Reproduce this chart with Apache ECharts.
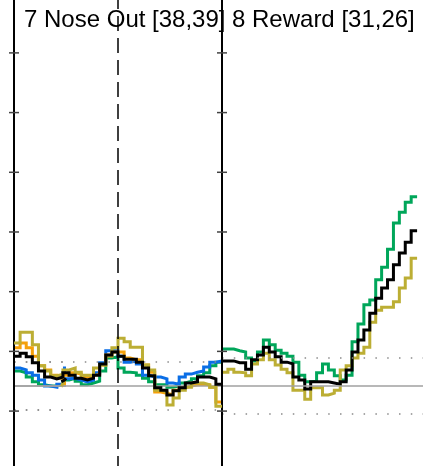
<!DOCTYPE html>
<html><head><meta charset="utf-8">
<script src="https://cdn.jsdelivr.net/npm/echarts@6/dist/echarts.min.js"></script>
<style>html,body{margin:0;padding:0;background:#fff}#c{width:423px;height:466px}</style>
</head><body><div id="c"></div>
<script>
// ---- data (values per time bin, baseline = 0) ----
const binsPerPanel = 34;
const eventBin = 17;
const panelTitles = ['7 Nose Out [38,39]', '8 Reward [31,26]'];
const yTicks = [-0.42, 0.58, 1.58, 2.58, 3.58, 4.58, 5.58];
const sigBand6 = 0.40, sigBand7 = 0.40, sigBand8 = 0.47;

// panel 6 (only its last bins are visible)
const p6Start = 31;
const p6Green  = [0.18, 0.20, 0.25];
const p6Blue   = [0.22, 0.23, 0.30];
const p6Orange = [0.00, 0.02, 0.07];
const p6Olive  = [0.00, 0.05, 0.10];
const p6Black  = [0.07, 0.10, 0.13];

// panel 7: Nose Out
const p7Green  = [0.25,0.22,0.15,0.07,0.02,0.00,0.00,0.02,0.10,0.13,0.08,0.02,0.05,0.08,0.25,0.47,0.49,0.30,0.23,0.22,0.18,0.13,0.07,0.02,0.02,-0.02,0.00,0.05,0.08,0.12,0.17,0.22,0.34,0.40];
const p7Blue   = [0.30,0.27,0.22,0.18,0.10,0.00,-0.02,0.03,0.12,0.13,0.10,0.07,0.10,0.22,0.39,0.59,0.59,0.50,0.40,0.42,0.37,0.18,0.15,0.15,0.12,0.05,0.03,0.15,0.20,0.23,0.25,0.32,0.40,0.42];
const p7Orange = [0.64,0.72,0.64,0.50,0.34,0.27,0.18,0.13,0.18,0.22,0.20,0.15,0.17,0.20,0.35,0.52,0.57,0.57,0.47,0.44,0.44,0.35,0.23,-0.10,-0.12,-0.15,-0.07,-0.03,0.00,0.02,0.03,0.02,-0.02,-0.27];
const p7Olive  = [0.72,0.90,0.90,0.69,0.34,0.25,0.17,0.20,0.27,0.30,0.23,0.18,0.18,0.30,0.35,0.50,0.64,0.80,0.74,0.65,0.65,0.35,0.27,-0.07,-0.10,-0.32,-0.20,-0.07,-0.02,0.05,0.05,0.02,-0.02,-0.34];
const p7Black  = [0.50,0.55,0.49,0.39,0.25,0.15,0.12,0.15,0.22,0.18,0.13,0.10,0.13,0.18,0.37,0.52,0.57,0.50,0.45,0.45,0.40,0.30,0.17,-0.03,-0.07,-0.15,-0.08,-0.03,0.05,0.07,0.15,0.15,0.12,0.03];

// panel 8: Reward
const p8Green  = [0.62,0.62,0.59,0.57,0.47,0.42,0.57,0.77,0.69,0.60,0.55,0.50,0.40,0.18,0.07,0.08,0.22,0.37,0.27,0.17,0.10,0.18,0.74,1.04,1.36,1.44,1.78,1.99,2.29,2.73,2.91,3.08,3.17];
const p8Olive  = [0.23,0.28,0.23,0.22,0.17,0.37,0.44,0.55,0.44,0.35,0.28,0.22,-0.07,-0.07,-0.22,-0.03,-0.03,-0.15,-0.12,-0.07,0.27,0.34,0.47,0.55,0.65,1.07,1.27,1.32,1.32,1.41,1.64,1.81,2.14];
const p8Black  = [0.42,0.42,0.39,0.39,0.28,0.44,0.52,0.65,0.57,0.49,0.40,0.37,0.15,0.10,-0.05,0.07,0.07,0.07,0.05,0.03,0.07,0.27,0.57,0.77,0.94,1.22,1.47,1.64,1.78,2.03,2.23,2.41,2.60];

// ---- styling ----
const C = {green:'#00a65a', blue:'#0a6ee6', orange:'#f5a00a', olive:'#bcae34', black:'#000000'};
const Y_MIN = -1.34, Y_MAX = 6.466;
const PANEL_W = 208, AX0 = 14, TICK_HALF = 5;

const steps = (vals, start) => {
  const d = vals.map((v, i) => [start + i, v]);
  d.push([start + vals.length, vals[vals.length - 1]]);
  return d;
};

const panels = [
  {left: AX0 - PANEL_W, band: sigBand6, start: p6Start, axis: false,
   lines: [['green', p6Green], ['blue', p6Blue], ['orange', p6Orange], ['olive', p6Olive], ['black', p6Black]]},
  {left: AX0, band: sigBand7, start: 0, axis: true, dashed: true,
   lines: [['green', p7Green], ['blue', p7Blue], ['orange', p7Orange], ['olive', p7Olive], ['black', p7Black]]},
  {left: AX0 + PANEL_W, band: sigBand8, start: 0, axis: true,
   lines: [['green', p8Green], ['olive', p8Olive], ['black', p8Black]]}
];

const grid = [], xAxis = [], yAxis = [], series = [];
panels.forEach((p, gi) => {
  grid.push({left: p.left, top: 0, width: PANEL_W, height: 466, containLabel: false});
  xAxis.push({type: 'value', gridIndex: gi, min: 0, max: binsPerPanel, show: false});
  yAxis.push({type: 'value', gridIndex: gi, position: 'left', min: Y_MIN, max: Y_MAX, show: p.axis, z: 5,
    axisLine: {show: true, onZero: false, lineStyle: {color: '#000', width: 2}},
    axisTick: {show: false}, axisLabel: {show: false}, splitLine: {show: false}});
  // reference lines (baseline + dotted band)
  series.push({type: 'line', xAxisIndex: gi, yAxisIndex: gi, data: [], z: 1, silent: true, animation: false,
    markLine: {silent: true, symbol: ['none', 'none'], label: {show: false}, animation: false,
      data: [
        {yAxis: 0, lineStyle: {color: '#a0a0a0', width: 1.6, type: 'solid'}},
        {yAxis: p.band, lineStyle: {color: '#8a8a8a', width: 1.5, type: [1.5, 10.3]}},
        {yAxis: -p.band, lineStyle: {color: '#8a8a8a', width: 1.5, type: [1.5, 10.3]}}
      ]}});
  p.lines.forEach(([name, vals], li) => {
    series.push({type: 'line', name: name, xAxisIndex: gi, yAxisIndex: gi, step: 'end',
      data: steps(vals, p.start), showSymbol: false, symbol: 'none', z: 2 + li, silent: true, animation: false,
      lineStyle: {color: C[name], width: 3, join: 'miter'}});
  });
  if (p.dashed) {
    series.push({type: 'line', xAxisIndex: gi, yAxisIndex: gi, data: [[eventBin, Y_MAX], [eventBin, Y_MIN]],
      showSymbol: false, symbol: 'none', z: 9, silent: true, animation: false,
      lineStyle: {color: '#000', width: 1.5, type: [15, 7], dashOffset: 6}});
  }
  if (p.axis) {
    // tick marks crossing the axis line on both sides
    series.push({type: 'custom', xAxisIndex: gi, yAxisIndex: gi, z: 10, silent: true, animation: false, clip: false,
      data: yTicks.map(v => [0, v]),
      renderItem: (params, api) => {
        const pt = api.coord([api.value(0), api.value(1)]);
        return {type: 'line', shape: {x1: pt[0] - TICK_HALF, y1: pt[1], x2: pt[0] + TICK_HALF, y2: pt[1]},
          style: {stroke: '#444', lineWidth: 1.5}};
      }});
  }
});

const graphic = panelTitles.map((t, i) => ({
  type: 'text', left: AX0 + PANEL_W * i + 10, top: 8, z: 20,
  style: {text: t, font: '24px "Liberation Sans", Arial, sans-serif', fill: '#000'}
}));

const chart = echarts.init(document.getElementById('c'), null, {renderer: 'canvas'});
chart.setOption({backgroundColor: '#fff', animation: false, grid, xAxis, yAxis, series, graphic});
</script>
</body></html>
